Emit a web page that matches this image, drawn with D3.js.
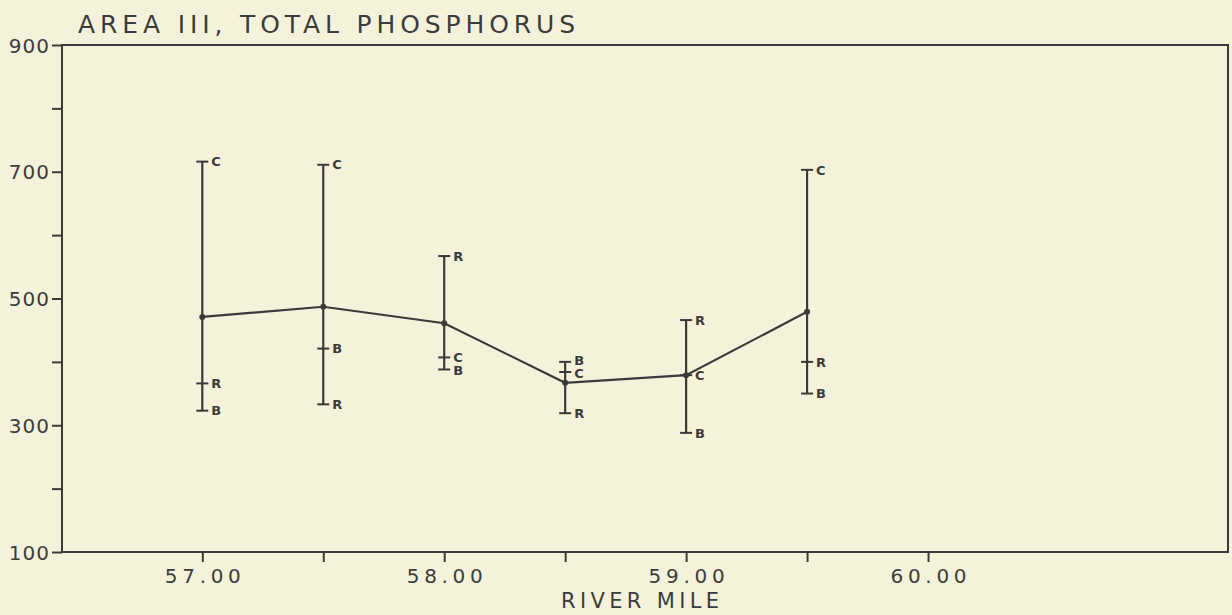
<!DOCTYPE html>
<html>
<head>
<meta charset="utf-8">
<script src="https://cdn.jsdelivr.net/npm/d3@7"></script>
<style>
  html, body { margin: 0; padding: 0; background: #f5f2dc; }
  svg { display: block; }
  text { font-family: "DejaVu Sans", sans-serif; fill: #3c3c3a; }
</style>
</head>
<body>
<svg id="chart"></svg>
<script>
// river mile stations and the three sample values at each (C, R, B) plus the mean
const miles = [57.0, 57.5, 58.0, 58.5, 59.0, 59.5];
const cValues = [716, 711, 407, 384, 379, 703];
const rValues = [366, 333, 567, 319, 466, 400];
const bValues = [323, 421, 388, 400, 288, 350];
const meanValues = [471, 487, 461, 367, 379, 479];

const yTicks = [100, 200, 300, 400, 500, 600, 700, 800, 900];
const yLabels = [100, 300, 500, 700, 900];
const xTicks = [57.0, 57.5, 58.0, 58.5, 59.0, 59.5, 60.0];
const xLabels = [57.0, 58.0, 59.0, 60.0];

const width = 1232, height = 615;
const plotLeft = 62, plotRight = 1228, plotTop = 45, plotBottom = 552;
const ink = "#3a3a38";

const svg = d3.select("#chart")
    .attr("width", width)
    .attr("height", height);

const x = d3.scaleLinear().domain([56.42, 61.24]).range([plotLeft, plotRight]);
const y = d3.scaleLinear().domain([100, 900]).range([plotBottom, plotTop]);

// frame
svg.append("rect")
    .attr("x", plotLeft).attr("y", plotTop)
    .attr("width", plotRight - plotLeft).attr("height", plotBottom - plotTop)
    .attr("fill", "none")
    .attr("stroke", ink)
    .attr("stroke-width", 2);

// y axis
const yAxis = svg.append("g")
    .attr("transform", `translate(${plotLeft},0)`)
    .call(d3.axisLeft(y).tickValues(yTicks).tickSize(10)
        .tickFormat(d => yLabels.includes(d) ? d : ""));
yAxis.select(".domain").remove();
yAxis.selectAll("line").attr("stroke", ink).attr("stroke-width", 2);
yAxis.selectAll("text")
    .attr("x", -12)
    .attr("dy", "0.35em")
    .style("font-size", "20px")
    .style("letter-spacing", "1px")
    .style("fill", "#3c3c3a")
    .style("font-family", "'DejaVu Sans', sans-serif");

// x axis
const xAxis = svg.append("g")
    .attr("transform", `translate(0,${plotBottom})`)
    .call(d3.axisBottom(x).tickValues(xTicks).tickSize(10)
        .tickFormat(d => xLabels.includes(d) ? d3.format(".2f")(d) : ""));
xAxis.select(".domain").remove();
xAxis.selectAll("line").attr("stroke", ink).attr("stroke-width", 2);
xAxis.selectAll("text")
    .filter(d => xLabels.includes(d))
    .attr("y", 17)
    .attr("dy", "0.71em")
    .attr("textLength", 76)
    .attr("lengthAdjust", "spacing")
    .style("font-size", "20px")
    .style("fill", "#3c3c3a")
    .style("font-family", "'DejaVu Sans', sans-serif");

// titles
svg.append("text")
    .attr("x", 78).attr("y", 33)
    .attr("textLength", 497)
    .attr("lengthAdjust", "spacing")
    .style("font-size", "25px")
    .text("AREA III, TOTAL PHOSPHORUS");

svg.append("text")
    .attr("x", 561).attr("y", 608)
    .attr("textLength", 158)
    .attr("lengthAdjust", "spacing")
    .style("font-size", "21px")
    .text("RIVER MILE");

// error bars: span from min to max of the three samples
const stations = miles.map((m, i) => ({
    mile: m,
    mean: meanValues[i],
    samples: [
        { key: "C", value: cValues[i] },
        { key: "R", value: rValues[i] },
        { key: "B", value: bValues[i] }
    ]
}));

// label positions: start at the cap, then push apart ones that are too close
const minGap = 13;
stations.forEach(st => {
    const labs = st.samples.map(s => ({ mile: st.mile, key: s.key, value: s.value, ly: y(s.value) }))
        .sort((a, b) => a.ly - b.ly);
    for (let i = 1; i < labs.length; i++) {
        const gap = labs[i].ly - labs[i - 1].ly;
        if (gap < minGap) {
            const shift = (minGap - gap) / 2;
            labs[i - 1].ly -= shift;
            labs[i].ly += shift;
        }
    }
    st.labels = labs;
});

const bars = svg.append("g").selectAll("g")
    .data(stations)
    .enter().append("g");

bars.append("line")
    .attr("x1", d => x(d.mile)).attr("x2", d => x(d.mile))
    .attr("y1", d => y(d3.max(d.samples, s => s.value)))
    .attr("y2", d => y(d3.min(d.samples, s => s.value)))
    .attr("stroke", ink)
    .attr("stroke-width", 2.2);

bars.selectAll(".cap")
    .data(d => d.samples.map(s => ({ mile: d.mile, ...s })))
    .enter().append("line")
    .attr("class", "cap")
    .attr("x1", d => x(d.mile) - 6).attr("x2", d => x(d.mile) + 6)
    .attr("y1", d => y(d.value)).attr("y2", d => y(d.value))
    .attr("stroke", ink)
    .attr("stroke-width", 2);

bars.selectAll(".lbl")
    .data(d => d.labels)
    .enter().append("text")
    .attr("class", "lbl")
    .attr("x", d => x(d.mile) + 9)
    .attr("y", d => d.ly)
    .attr("dy", "0.36em")
    .style("font-size", "13px")
    .style("font-weight", "bold")
    .text(d => d.key);

// mean line
const line = d3.line()
    .x(d => x(d.mile))
    .y(d => y(d.mean));

svg.append("path")
    .datum(stations)
    .attr("d", line)
    .attr("fill", "none")
    .attr("stroke", ink)
    .attr("stroke-width", 2.2);

svg.append("g").selectAll("circle")
    .data(stations)
    .enter().append("circle")
    .attr("cx", d => x(d.mile))
    .attr("cy", d => y(d.mean))
    .attr("r", 3)
    .attr("fill", ink);
</script>
</body>
</html>
